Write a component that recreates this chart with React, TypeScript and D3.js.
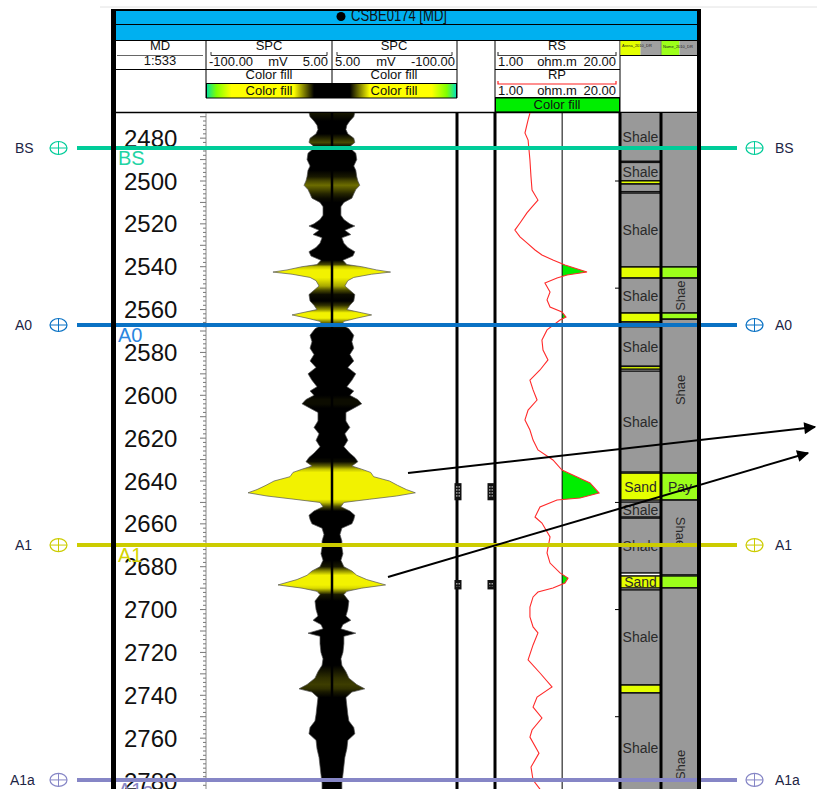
import React, { useEffect } from "react";
import * as d3 from "d3";

// ---------- DATA ----------
const depthLabels = [2480, 2500, 2520, 2540, 2560, 2580, 2600, 2620, 2640, 2660, 2680, 2700, 2720, 2740, 2760, 2780];

const spcDepth = [
  2468, 2470, 2472, 2474, 2476, 2478, 2480, 2482, 2483.5, 2485,
  2487, 2490, 2493, 2495, 2498, 2500, 2502, 2504, 2506, 2508,
  2510, 2512, 2516, 2518, 2520, 2521, 2523, 2525, 2526.5, 2529,
  2531, 2533, 2535, 2537, 2539, 2540, 2541.5, 2542.5, 2543.5, 2545,
  2546.5, 2549, 2551, 2553, 2556, 2558, 2560, 2561.5, 2562.5, 2564,
  2565.5, 2567, 2569, 2572, 2575, 2578, 2581, 2584, 2587, 2590,
  2593, 2596, 2598, 2600, 2602, 2604, 2606, 2608, 2612, 2615,
  2618, 2621, 2624, 2627, 2629, 2631, 2633, 2634.5, 2636, 2638,
  2640, 2642, 2644, 2645.5, 2647, 2648.5, 2650, 2652, 2654, 2656,
  2658, 2660, 2662, 2665, 2668, 2671, 2674, 2677, 2680, 2682,
  2684, 2686, 2688.5, 2690, 2691.5, 2693, 2696, 2700, 2703, 2705,
  2707, 2709, 2711, 2712.5, 2716, 2720, 2723, 2726, 2729, 2732,
  2735, 2737, 2738.5, 2741, 2745, 2749, 2752, 2755, 2758, 2761,
  2765, 2769, 2773, 2777, 2781, 2785,
];
// SPC value in mV (track scale -100 .. 5)
const spcValue = [
  -14.2, -13.3, -10.0, -7.5, -6.7, -8.3, -13.3, -14.2, -10.8, -10.8,
  -15.0, -15.8, -13.3, -15.0, -15.8, -16.7, -18.3, -15.0, -13.3, -11.7,
  -5.0, -2.5, -2.5, -5.0, -10.0, -14.2, -5.8, -10.8, -3.3, -5.0,
  -8.3, -14.2, -12.5, -4.2, -7.5, -20.0, -32.5, -44.2, -28.3, -13.3,
  -8.3, -5.8, -10.0, -14.2, -13.3, -10.0, -7.5, -20.0, -28.3, -15.8,
  -5.0, -3.3, -9.2, -13.3, -11.7, -13.3, -10.0, -13.3, -8.3, -15.0,
  -11.7, -7.5, -13.3, -10.0, -16.7, -20.0, -13.3, -6.7, -6.7, -10.0,
  -5.8, -8.3, -5.0, -10.0, -14.2, -16.7, -11.7, -20.0, -27.5, -30.0,
  -43.3, -50.0, -57.5, -65.0, -49.2, -26.7, -5.0, -2.5, -10.0, -14.2,
  -13.3, -11.7, -3.3, -1.7, -3.3, -3.3, -4.2, -2.5, -5.0, -11.7,
  -15.8, -24.2, -40.0, -20.0, -7.5, -5.0, -9.2, -8.3, -6.7, -10.8,
  -4.2, -2.5, -15.0, -5.0, -5.0, -4.2, -2.5, -3.3, -6.7, -9.2,
  -15.8, -22.5, -11.7, -6.7, -7.5, -8.3, -9.2, -13.3, -14.2, -8.3,
  -7.5, -5.8, -5.0, -4.2, -3.3, -3.3,
];
// colour-fill intensity (0 = black, 1 = yellow)
const spcTone = [
  0.1, 0.05, 0, 0, 0, 0, 0.15, 0.3, 0.1, 0,
  0, 0, 0, 0, 0.1, 0.3, 0.45, 0.3, 0.15, 0.05,
  0, 0, 0, 0, 0, 0, 0, 0, 0, 0,
  0, 0, 0, 0, 0.3, 0.8, 1, 1, 1, 1,
  0.9, 0.7, 0.3, 0.05, 0, 0.2, 0.6, 1, 1, 1,
  0.6, 0.2, 0, 0, 0, 0, 0, 0, 0, 0,
  0, 0, 0, 0, 0.05, 0.05, 0, 0, 0, 0,
  0, 0, 0, 0, 0, 0.05, 0.4, 0.8, 1, 1,
  1, 1, 1, 1, 1, 1, 0.8, 0.3, 0, 0,
  0, 0, 0, 0, 0, 0, 0, 0, 0.1, 0.6,
  1, 1, 1, 0.9, 0.5, 0.1, 0, 0, 0, 0,
  0, 0, 0, 0, 0, 0, 0, 0, 0.1, 0.2,
  0.25, 0.2, 0.1, 0, 0, 0, 0, 0, 0, 0,
  0, 0, 0, 0, 0, 0,
];

const rpDepth = [
  2468.3, 2471.5, 2477.6, 2480.9, 2485.5, 2490.2, 2498.1, 2504.2, 2508.9, 2512.1,
  2514.9, 2519.6, 2522.9, 2526.1, 2528.9, 2532.2, 2534.5, 2536.9, 2539.2, 2542.5,
  2543.9, 2545.3, 2547.6, 2551.8, 2555.5, 2558.8, 2561.1, 2563.5, 2564.9, 2569.5,
  2574.2, 2578.9, 2583.5, 2588.2, 2592.9, 2597.5, 2602.2, 2606.9, 2611.5, 2616.2,
  2620.9, 2625.5, 2630.2, 2634.9, 2640.9, 2645.6, 2647.9, 2648.9, 2652.1, 2656.8,
  2659.6, 2666.1, 2673.6, 2678.3, 2682.9, 2685.3, 2687.6, 2689.9, 2691.8, 2694.1,
  2698.8, 2703.4, 2708.1, 2710.9, 2716.5, 2723.5, 2729.6, 2736.1, 2740.8, 2745.5,
  2750.6, 2756.2, 2759.5, 2767.0, 2773.5, 2779.6, 2783.8,
];
const rpValue = [
  2.31, 2.21, 2.05, 2.21, 2.26, 2.31, 2.37, 2.43, 2.8, 2.43,
  2.15, 1.82, 1.61, 1.82, 2.15, 2.61, 3.08, 4.01, 5.35, 9.07,
  5.62, 4.42, 3.31, 3.74, 3.48, 3.74, 4.98, 5.48, 4.75, 3.48,
  3.08, 3.16, 3.56, 2.94, 2.31, 2.49, 2.74, 2.21, 2.05, 2.31,
  2.49, 2.8, 4.01, 4.98, 9.75, 12.1, 7.67, 4.42, 2.94, 2.61,
  3.08, 3.74, 3.48, 3.74, 4.75, 5.75, 5.35, 4.01, 2.8, 2.49,
  2.31, 2.31, 2.49, 2.8, 2.49, 2.21, 2.94, 3.92, 2.74, 2.49,
  3.08, 2.43, 2.31, 2.87, 2.37, 2.49, 2.94,
];
const rpCutoff = 5;

// lithology column 1: [top, base, type, label]
const lithoCol1: [number, number, string, string][] = [
  [2466, 2490.8, "shale", "Shale"],
  [2491.3, 2499.9, "shale", "Shale"],
  [2499.9, 2501.4, "sand", ""],
  [2501.4, 2505.0, "shale", ""],
  [2505.6, 2540.1, "shale", "Shale"],
  [2540.1, 2545.3, "sand", ""],
  [2545.3, 2561.6, "shale", "Shale"],
  [2561.6, 2565.8, "sand", ""],
  [2565.8, 2567.6, "shale", ""],
  [2568.0, 2586.5, "shale", "Shale"],
  [2586.5, 2587.8, "sand", ""],
  [2588.7, 2635.8, "shale", "Shale"],
  [2636.3, 2648.9, "sand", "Sand"],
  [2649.8, 2656.8, "shale", "Shale"],
  [2657.3, 2682.9, "shale", "Shale"],
  [2684.3, 2689.9, "sand", "Sand"],
  [2690.8, 2735.2, "shale", "Shale"],
  [2735.2, 2738.9, "sand", ""],
  [2738.9, 2790, "shale", "Shale"],
];
// lithology column 2: [top, base, type, label, labelDepth, rotation]
const lithoCol2: [number, number, string, string, number, number][] = [
  [2466, 2540.1, "shale", "", 0, 0],
  [2540.1, 2545.3, "pay", "", 0, 0],
  [2545.3, 2561.6, "shale", "Shae", 2553.5, -90],
  [2561.6, 2564.5, "pay", "", 0, 0],
  [2564.5, 2636.3, "shale", "Shae", 2597.5, -90],
  [2636.3, 2648.9, "pay", "Pay", 2642.6, 0],
  [2648.9, 2683.8, "shale", "Shae", 2663.8, 90],
  [2684.3, 2689.9, "pay", "", 0, 0],
  [2689.9, 2790, "shale", "Shae", 2772.5, -90],
];

const topNames = ["BS", "A0", "A1", "A1a"];
const topDepths = [2484.6, 2567.2, 2669.9, 2779.5];
const topColors = ["#00cc99", "#0a72c4", "#cccc00", "#8686c6"];
const topTextColors = ["#22d4a4", "#2a86e0", "#d4d400", "#8686c6"];

const perfTop = [2641.0, 2686.2];
const perfBase = [2649.0, 2690.6];

// ---------- COMPONENT ----------
const FONT = "'Liberation Sans', Arial, Helvetica, sans-serif";

export default function App() {
  useEffect(() => {
    document.body.style.margin = "0";
  }, []);

  const W = 817, H = 789;
  const bodyTop = 113, bodyBottom = 789;
  const y = d3.scaleLinear().domain([2500, 2780]).range([181, 781]);

  const xSpcL = d3.scaleLinear().domain([-100, 5]).range([206, 332]);
  const xSpcR = d3.scaleLinear().domain([5, -100]).range([332, 457]);
  const xRp = d3.scaleLog().domain([1, 20]).range([495, 620]);

  const idx = d3.range(spcDepth.length);
  const spcArea = d3.area<number>()
    .x0(i => xSpcL(spcValue[i]))
    .x1(i => xSpcR(spcValue[i]))
    .y(i => y(spcDepth[i]))
    .curve(d3.curveLinear)(idx) || "";
  const toneColor = d3.interpolateRgb("#000000", "#f2f200");
  const gy0 = y(spcDepth[0]);
  const gy1 = y(spcDepth[spcDepth.length - 1]);

  // RP line
  const rpIdx = d3.range(rpDepth.length);
  const rpLine = d3.line<number>()
    .x(i => xRp(rpValue[i]))
    .y(i => y(rpDepth[i]))(rpIdx) || "";
  // fill points with crossings inserted
  const fillPts: [number, number][] = [];
  for (let i = 0; i < rpDepth.length; i++) {
    if (i > 0) {
      const a = rpValue[i - 1], b = rpValue[i];
      if ((a - rpCutoff) * (b - rpCutoff) < 0) {
        const la = Math.log(a), lb = Math.log(b), lc = Math.log(rpCutoff);
        const t = (lc - la) / (lb - la);
        fillPts.push([rpDepth[i - 1] + t * (rpDepth[i] - rpDepth[i - 1]), rpCutoff]);
      }
    }
    fillPts.push([rpDepth[i], rpValue[i]]);
  }
  const rpFill = d3.area<[number, number]>()
    .x0(() => xRp(rpCutoff))
    .x1(p => xRp(Math.max(p[1], rpCutoff)))
    .y(p => y(p[0]))(fillPts) || "";

  // MD ticks
  const minorTicks = d3.range(2470, 2786, 2);

  const lithoFill = (t: string) => (t === "shale" ? "#999999" : t === "sand" ? "#e4ff00" : "#9cff1a");

  const txt = (x: number, yy: number, s: string, anchor: "start" | "middle" | "end" = "middle", size = 13, fill = "#111") => (
    <text x={x} y={yy} textAnchor={anchor} fontSize={size} fill={fill}>{s}</text>
  );

  return (
    <svg width={W} height={H} style={{ display: "block", position: "absolute", left: 0, top: 0 }} fontFamily={FONT}>
      <defs>
        <linearGradient id="spcGrad" gradientUnits="userSpaceOnUse" x1={0} x2={0} y1={gy0} y2={gy1}>
          {spcDepth.map((d, i) => (
            <stop key={i} offset={(y(d) - gy0) / (gy1 - gy0)} stopColor={toneColor(spcTone[i])} />
          ))}
        </linearGradient>
        <linearGradient id="hdrL" x1="0" x2="1" y1="0" y2="0">
          <stop offset="0" stopColor="#00e0a0" />
          <stop offset="0.08" stopColor="#80ff00" />
          <stop offset="0.2" stopColor="#ffff00" />
          <stop offset="0.7" stopColor="#ffff00" />
          <stop offset="0.86" stopColor="#000000" />
          <stop offset="1" stopColor="#000000" />
        </linearGradient>
        <linearGradient id="hdrR" x1="1" x2="0" y1="0" y2="0">
          <stop offset="0" stopColor="#00e0c0" />
          <stop offset="0.08" stopColor="#80ff00" />
          <stop offset="0.2" stopColor="#ffff00" />
          <stop offset="0.7" stopColor="#ffff00" />
          <stop offset="0.86" stopColor="#000000" />
          <stop offset="1" stopColor="#000000" />
        </linearGradient>
        <clipPath id="bodyClip">
          <rect x={116} y={bodyTop} width={581} height={bodyBottom - bodyTop} />
        </clipPath>
        <clipPath id="titleClip">
          <rect x={116} y={11} width={581} height={13} />
        </clipPath>
        <marker id="arrow" viewBox="0 0 10 10" refX="9" refY="5" markerWidth="7" markerHeight="6" orient="auto" markerUnits="strokeWidth">
          <path d="M0,0 L10,5 L0,10 z" fill="#000" />
        </marker>
      </defs>

      <rect x={0} y={0} width={W} height={H} fill="#fff" />
      <line x1={100} x2={W} y1={7} y2={7} stroke="#e2e2e2" strokeWidth={1} />

      {/* ---------- header ---------- */}
      <rect x={116} y={11} width={581} height={30} fill="#00b0f0" />
      <line x1={116} x2={697} y1={24.5} y2={24.5} stroke="#000" strokeWidth={1} />
      <line x1={116} x2={697} y1={40.5} y2={40.5} stroke="#000" strokeWidth={1} />
      <g clipPath="url(#titleClip)">
        <circle cx={341} cy={16.5} r={4.5} fill="#000" />
        <text x={351} y={21} fontSize={17} fill="#111" textLength={96} lengthAdjust="spacingAndGlyphs">CSBE0174 [MD]</text>
      </g>

      {/* header column separators */}
      {[206, 332, 457].map(x => (
        <line key={x} x1={x} x2={x} y1={41} y2={98} stroke="#000" strokeWidth={1} />
      ))}
      {[495, 620].map(x => (
        <line key={x} x1={x} x2={x} y1={41} y2={112} stroke="#000" strokeWidth={1} />
      ))}
      <line x1={661} x2={661} y1={41} y2={55} stroke="#000" strokeWidth={1} />
      <line x1={620} x2={697} y1={55.5} y2={55.5} stroke="#000" strokeWidth={1} />
      <line x1={116} x2={457} y1={69.5} y2={69.5} stroke="#000" strokeWidth={1} />
      <line x1={495} x2={620} y1={69.5} y2={69.5} stroke="#000" strokeWidth={1} />
      <line x1={206} x2={457} y1={83.5} y2={83.5} stroke="#000" strokeWidth={1} />
      <line x1={495} x2={620} y1={97.5} y2={97.5} stroke="#000" strokeWidth={1} />
      <line x1={117} x2={203} y1={55.5} y2={55.5} stroke="#666" strokeWidth={1} />

      {/* MD header */}
      {txt(160, 50, "MD")}
      {txt(160, 65, "1:533")}

      {/* SPC left header */}
      {txt(269, 50, "SPC")}
      <path d="M211,52 L211,55.5 L327,55.5 L327,52" fill="none" stroke="#333" strokeWidth={1} />
      {txt(209, 66, "-100.00", "start")}
      {txt(278, 66, "mV")}
      {txt(328, 66, "5.00", "end")}
      {txt(269, 79, "Color fill")}
      <rect x={206.5} y={83.5} width={125} height={14.5} fill="url(#hdrL)" stroke="#000" strokeWidth={1} />
      {txt(269, 94.5, "Color fill")}

      {/* SPC right header */}
      {txt(394, 50, "SPC")}
      <path d="M337,52 L337,55.5 L452,55.5 L452,52" fill="none" stroke="#333" strokeWidth={1} />
      {txt(335, 66, "5.00", "start")}
      {txt(386, 66, "mV")}
      {txt(455, 66, "-100.00", "end")}
      {txt(394, 79, "Color fill")}
      <rect x={332.5} y={83.5} width={124} height={14.5} fill="url(#hdrR)" stroke="#000" strokeWidth={1} />
      {txt(394, 94.5, "Color fill")}

      {/* RS / RP header */}
      {txt(557, 50, "RS")}
      <path d="M498,52 L498,55.5 L616,55.5 L616,52" fill="none" stroke="#444" strokeWidth={1.2} />
      {txt(498, 66, "1.00", "start")}
      {txt(557, 66, "ohm.m")}
      {txt(616, 66, "20.00", "end")}
      {txt(557, 79, "RP")}
      <path d="M498,81 L498,84 L616,84 L616,81" fill="none" stroke="#ff2020" strokeWidth={1.2} />
      {txt(498, 94.5, "1.00", "start")}
      {txt(557, 94.5, "ohm.m")}
      {txt(616, 94.5, "20.00", "end")}
      <rect x={495.5} y={98} width={124} height={14} fill="#00ee00" stroke="#000" strokeWidth={1} />
      {txt(557, 109, "Color fill")}

      {/* lithology legend cells */}
      <rect x={620.5} y={41} width={20} height={14} fill="#e4ff00" />
      <rect x={640.5} y={41} width={20} height={14} fill="#a0a0a0" />
      <text x={622} y={47} fontSize={4} fill="#222">Arena_2010_DR</text>
      <rect x={661.5} y={41} width={18} height={14} fill="#9cff1a" />
      <rect x={679.5} y={41} width={17.5} height={14} fill="#a0a0a0" />
      <text x={663} y={48} fontSize={4} fill="#222">Name_2010_DR</text>

      <line x1={116} x2={697} y1={112.5} y2={112.5} stroke="#000" strokeWidth={1.5} />

      {/* ---------- body ---------- */}
      <g clipPath="url(#bodyClip)">
        {/* SPC */}
        <path d={spcArea} fill="url(#spcGrad)" stroke="#555" strokeWidth={0.7} />
        <line x1={332} x2={332} y1={bodyTop} y2={bodyBottom} stroke="#000" strokeWidth={2.5} />

        {/* RP */}
        <path d={rpFill} fill="#00ee00" stroke="none" />
        <line x1={xRp(rpCutoff)} x2={xRp(rpCutoff)} y1={bodyTop} y2={bodyBottom} stroke="#000" strokeWidth={1} />
        <path d={rpLine} fill="none" stroke="#ff2a2a" strokeWidth={1.1} />

        {/* lithology */}
        {lithoCol1.map((b, i) => (
          <rect key={"l1" + i} x={620} y={y(b[0])} width={41} height={y(b[1]) - y(b[0])} fill={lithoFill(b[2])} stroke="#111" strokeWidth={1.5} />
        ))}
        {lithoCol1.map((b, i) => b[3] ? (
          <text key={"t1" + i} x={640.5} y={(y(Math.max(b[0], 2468.3)) + y(b[1])) / 2 + 5} textAnchor="middle" fontSize={14} fill="#2a2a2a">{b[3]}</text>
        ) : null)}
        {lithoCol2.map((b, i) => (
          <rect key={"l2" + i} x={661} y={y(b[0])} width={38} height={y(b[1]) - y(b[0])} fill={lithoFill(b[2])} stroke="#111" strokeWidth={1.5} />
        ))}
        {lithoCol2.map((b, i) => b[3] ? (
          <text key={"t2" + i} transform={`translate(${b[5] === 0 ? 680 : b[5] < 0 ? 685 : 676},${y(b[4])}) rotate(${b[5]})`} y={b[5] === 0 ? 5 : 0} textAnchor="middle" fontSize={b[5] === 0 ? 14 : 13} fill="#2a2a2a">{b[3]}</text>
        ) : null)}

        {/* small depth dashes on lithology edge */}
        {[2500, 2550, 2650, 2700, 2750].map(d => (
          <line key={"dd" + d} x1={615} x2={619} y1={y(d)} y2={y(d)} stroke="#000" strokeWidth={1} />
        ))}

        {/* track borders */}
        <line x1={206} x2={206} y1={bodyTop} y2={bodyBottom} stroke="#8a8a8a" strokeWidth={1} />
        {[457, 495, 620, 661].map(x => (
          <line key={"tb" + x} x1={x} x2={x} y1={bodyTop} y2={bodyBottom} stroke="#000" strokeWidth={3} />
        ))}

        {/* perforations */}
        {perfTop.map((t, i) => (
          <g key={"pf" + i}>
            {[458, 491].map(cx => (
              <g key={cx}>
                <rect x={cx - 3.5} y={y(t)} width={7} height={y(perfBase[i]) - y(t)} fill="#111" />
                {d3.range(3).map(k => (
                  <line key={k} x1={cx - 1.5 + k * 1.5} x2={cx - 1.5 + k * 1.5} y1={y(t) + 3} y2={y(perfBase[i]) - 3} stroke="#fff" strokeWidth={0.6} strokeDasharray="1.5,1.5" />
                ))}
              </g>
            ))}
          </g>
        ))}

        {/* MD ticks */}
        {minorTicks.map(d => (
          <line key={"mt" + d} x1={206 - (d % 10 === 0 ? 6 : 3)} x2={206} y1={y(d)} y2={y(d)} stroke="#777" strokeWidth={1} />
        ))}
        {depthLabels.map(d => (
          <text key={"dl" + d} x={124} y={y(d) + 8.5} fontSize={24} fill="#111">{d}</text>
        ))}
      </g>

      {/* ---------- well tops ---------- */}
      {topNames.map((n, i) => {
        const yy = y(topDepths[i]);
        const c = topColors[i];
        return (
          <g key={"top" + n}>
            <line x1={77} x2={737} y1={yy} y2={yy} stroke={c} strokeWidth={4} />
            <ellipse cx={58.5} cy={yy} rx={8.5} ry={6.5} fill="none" stroke={c} strokeWidth={1.2} />
            <line x1={50} x2={67} y1={yy} y2={yy} stroke={c} strokeWidth={1} />
            <line x1={58.5} x2={58.5} y1={yy - 6.5} y2={yy + 6.5} stroke={c} strokeWidth={1} />
            <ellipse cx={754.5} cy={yy} rx={8.5} ry={6.5} fill="none" stroke={c} strokeWidth={1.2} />
            <line x1={746} x2={763} y1={yy} y2={yy} stroke={c} strokeWidth={1} />
            <line x1={754.5} x2={754.5} y1={yy - 6.5} y2={yy + 6.5} stroke={c} strokeWidth={1} />
            <text x={n === "A1a" ? 10 : 15} y={yy + 5} fontSize={14} fill="#1c2444">{n}</text>
            <text x={775} y={yy + 5} fontSize={14} fill="#1c2444">{n}</text>
            <g clipPath="url(#bodyClip)">
              <text x={118} y={yy + 17} fontSize={20} fill={topTextColors[i]}>{n}</text>
            </g>
          </g>
        );
      })}

      {/* ---------- arrows ---------- */}
      <line x1={408} y1={473} x2={815} y2={427} stroke="#000" strokeWidth={2} markerEnd="url(#arrow)" />
      <line x1={388} y1={577} x2={808} y2={453} stroke="#000" strokeWidth={2} markerEnd="url(#arrow)" />

      {/* ---------- frame ---------- */}
      <line x1={111} x2={701} y1={10} y2={10} stroke="#000" strokeWidth={2} />
      <rect x={111} y={9} width={5} height={H - 9} fill="#000" />
      <rect x={697} y={9} width={4} height={H - 9} fill="#000" />
    </svg>
  );
}
